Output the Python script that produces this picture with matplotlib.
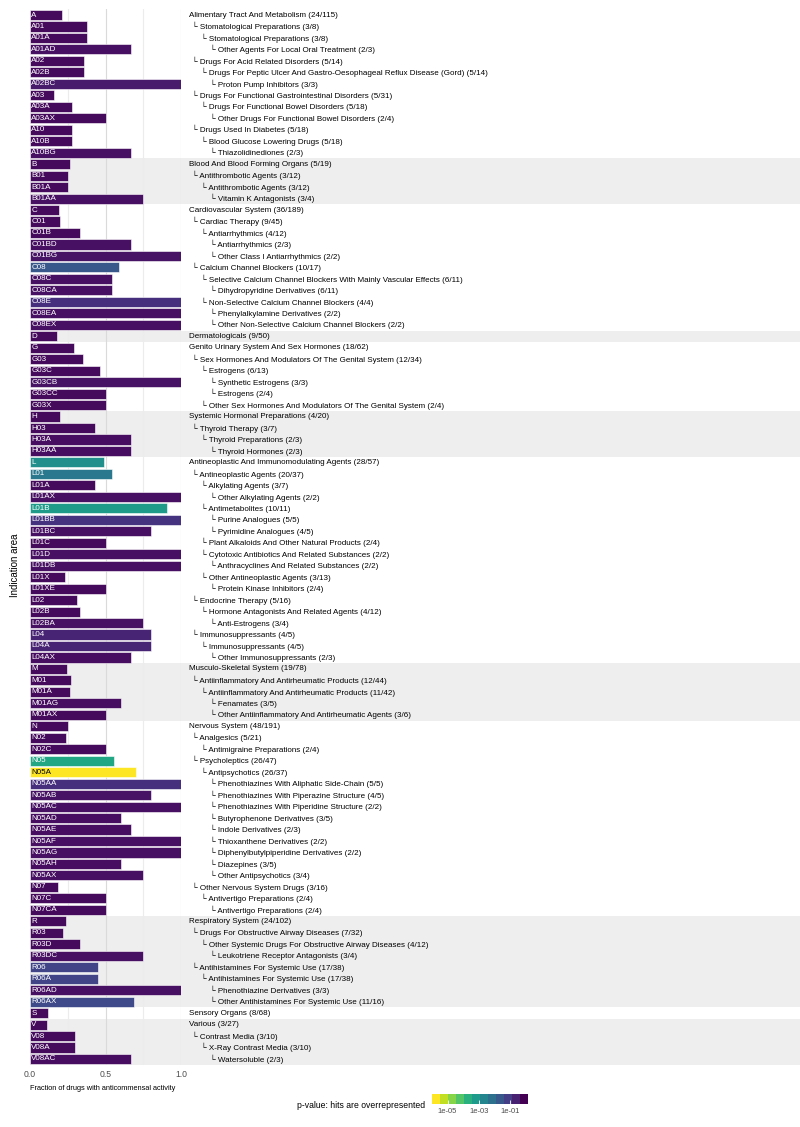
import numpy as np
import matplotlib
matplotlib.use("Agg")
import matplotlib.pyplot as plt
from matplotlib.colors import LogNorm
from matplotlib.cm import ScalarMappable

plt.rcParams['font.family'] = ['Liberation Sans', 'DejaVu Sans']

# ----------------- Data -----------------
codes = ["A", "A01", "A01A", "A01AD", "A02", "A02B", "A02BC", "A03", "A03A", "A03AX",
         "A10", "A10B", "A10BG",
         "B", "B01", "B01A", "B01AA",
         "C", "C01", "C01B", "C01BD", "C01BG", "C08", "C08C", "C08CA", "C08E", "C08EA", "C08EX",
         "D",
         "G", "G03", "G03C", "G03CB", "G03CC", "G03X",
         "H", "H03", "H03A", "H03AA",
         "L", "L01", "L01A", "L01AX", "L01B", "L01BB", "L01BC", "L01C", "L01D", "L01DB",
         "L01X", "L01XE", "L02", "L02B", "L02BA", "L04", "L04A", "L04AX",
         "M", "M01", "M01A", "M01AG", "M01AX",
         "N", "N02", "N02C", "N05", "N05A", "N05AA", "N05AB", "N05AC", "N05AD", "N05AE",
         "N05AF", "N05AG", "N05AH", "N05AX", "N07", "N07C", "N07CA",
         "R", "R03", "R03D", "R03DC", "R06", "R06A", "R06AD", "R06AX",
         "S",
         "V", "V08", "V08A", "V08AC"]

names = ["Alimentary Tract And Metabolism", "Stomatological Preparations",
         "Stomatological Preparations", "Other Agents For Local Oral Treatment",
         "Drugs For Acid Related Disorders",
         "Drugs For Peptic Ulcer And Gastro-Oesophageal Reflux Disease (Gord)",
         "Proton Pump Inhibitors", "Drugs For Functional Gastrointestinal Disorders",
         "Drugs For Functional Bowel Disorders", "Other Drugs For Functional Bowel Disorders",
         "Drugs Used In Diabetes", "Blood Glucose Lowering Drugs", "Thiazolidinediones",
         "Blood And Blood Forming Organs", "Antithrombotic Agents", "Antithrombotic Agents",
         "Vitamin K Antagonists",
         "Cardiovascular System", "Cardiac Therapy", "Antiarrhythmics", "Antiarrhythmics",
         "Other Class I Antiarrhythmics", "Calcium Channel Blockers",
         "Selective Calcium Channel Blockers With Mainly Vascular Effects",
         "Dihydropyridine Derivatives", "Non-Selective Calcium Channel Blockers",
         "Phenylalkylamine Derivatives", "Other Non-Selective Calcium Channel Blockers",
         "Dermatologicals",
         "Genito Urinary System And Sex Hormones",
         "Sex Hormones And Modulators Of The Genital System", "Estrogens",
         "Synthetic Estrogens", "Estrogens",
         "Other Sex Hormones And Modulators Of The Genital System",
         "Systemic Hormonal Preparations", "Thyroid Therapy", "Thyroid Preparations",
         "Thyroid Hormones",
         "Antineoplastic And Immunomodulating Agents", "Antineoplastic Agents",
         "Alkylating Agents", "Other Alkylating Agents", "Antimetabolites",
         "Purine Analogues", "Pyrimidine Analogues",
         "Plant Alkaloids And Other Natural Products",
         "Cytotoxic Antibiotics And Related Substances",
         "Anthracyclines And Related Substances", "Other Antineoplastic Agents",
         "Protein Kinase Inhibitors", "Endocrine Therapy",
         "Hormone Antagonists And Related Agents", "Anti-Estrogens",
         "Immunosuppressants", "Immunosuppressants", "Other Immunosuppressants",
         "Musculo-Skeletal System", "Antiinflammatory And Antirheumatic Products",
         "Antiinflammatory And Antirheumatic Products", "Fenamates",
         "Other Antiinflammatory And Antirheumatic Agents",
         "Nervous System", "Analgesics", "Antimigraine Preparations", "Psycholeptics",
         "Antipsychotics", "Phenothiazines With Aliphatic Side-Chain",
         "Phenothiazines With Piperazine Structure",
         "Phenothiazines With Piperidine Structure", "Butyrophenone Derivatives",
         "Indole Derivatives", "Thioxanthene Derivatives",
         "Diphenylbutylpiperidine Derivatives", "Diazepines", "Other Antipsychotics",
         "Other Nervous System Drugs", "Antivertigo Preparations",
         "Antivertigo Preparations",
         "Respiratory System", "Drugs For Obstructive Airway Diseases",
         "Other Systemic Drugs For Obstructive Airway Diseases",
         "Leukotriene Receptor Antagonists", "Antihistamines For Systemic Use",
         "Antihistamines For Systemic Use", "Phenothiazine Derivatives",
         "Other Antihistamines For Systemic Use",
         "Sensory Organs",
         "Various", "Contrast Media", "X-Ray Contrast Media", "Watersoluble"]

hits = [24, 3, 3, 2, 5, 5, 3, 5, 5, 2, 5, 5, 2,
        5, 3, 3, 3,
        36, 9, 4, 2, 2, 10, 6, 6, 4, 2, 2,
        9,
        18, 12, 6, 3, 2, 2,
        4, 3, 2, 2,
        28, 20, 3, 2, 10, 5, 4, 2, 2, 2, 3, 2, 5, 4, 3, 4, 4, 2,
        19, 12, 11, 3, 3,
        48, 5, 2, 26, 26, 5, 4, 2, 3, 2, 2, 2, 3, 3, 3, 2, 2,
        24, 7, 4, 3, 17, 17, 3, 11,
        8,
        3, 3, 3, 2]

totals = [115, 8, 8, 3, 14, 14, 3, 31, 18, 4, 18, 18, 3,
          19, 12, 12, 4,
          189, 45, 12, 3, 2, 17, 11, 11, 4, 2, 2,
          50,
          62, 34, 13, 3, 4, 4,
          20, 7, 3, 3,
          57, 37, 7, 2, 11, 5, 5, 4, 2, 2, 13, 4, 16, 12, 4, 5, 5, 3,
          78, 44, 42, 5, 6,
          191, 21, 4, 47, 37, 5, 5, 2, 5, 3, 2, 2, 5, 4, 16, 4, 4,
          102, 32, 12, 4, 38, 38, 3, 16,
          68,
          27, 10, 10, 3]

pvals = [1, 1, 1, 0.8, 1, 1, 0.5, 1, 1, 1, 1, 1, 0.8,
         1, 1, 1, 0.8,
         1, 1, 1, 0.8, 0.7, 0.03, 0.8, 0.8, 0.2, 0.8, 0.8,
         1,
         1, 1, 1, 0.7, 1, 1,
         1, 1, 0.9, 0.9,
         1.2e-3, 5e-3, 1, 0.8, 6e-4, 0.18, 0.8, 1, 0.8, 0.8, 1, 1, 1, 1, 0.8,
         0.34, 0.34, 0.9,
         1, 1, 1, 0.9, 1,
         1, 1, 1, 3e-4, 1e-6, 0.2, 0.7, 0.8, 0.9, 0.9, 0.8, 0.8, 0.9, 0.8, 1, 1, 1,
         1, 1, 1, 0.8, 0.08, 0.08, 0.8, 0.06,
         1,
         1, 1, 1, 0.9]

frac = np.array(hits) / np.array(totals)
levels = [{1: 0, 3: 1, 4: 2, 5: 3}[len(c)] for c in codes]
n = len(codes)
y = np.arange(n)

# ----------------- Layout -----------------
W, H = 800, 1127
fig = plt.figure(figsize=(W / 100, H / 100), dpi=100)
top_px, bot_px = 9.3, 1064.7
ax = fig.add_axes([30 / W, 1 - bot_px / H, 151 / W, (bot_px - top_px) / H])
ax2 = fig.add_axes([181 / W, 1 - bot_px / H, 619 / W, (bot_px - top_px) / H])

norm = LogNorm(vmin=1e-6, vmax=10 ** 0.15)
cmap = plt.get_cmap('viridis_r')

# alternating background bands per top-level group
group = np.cumsum([lv == 0 for lv in levels]) - 1
for g in np.unique(group):
    if g % 2 == 1:
        rows = y[group == g]
        for a in (ax, ax2):
            a.axhspan(rows[0] - 0.5, rows[-1] + 0.5, color='#eeeeee', lw=0, zorder=0)

# grid
for xv, col in [(0.25, '#ececec'), (0.5, '#dadada'), (0.75, '#ececec'), (1.0, '#d2d2d2')]:
    ax.axvline(xv, color=col, lw=0.8, zorder=1)

# ----------------- Bars -----------------
colors = cmap(norm(pvals))
ax.barh(y, frac, height=0.88, color=colors, edgecolor='white', linewidth=0.4, zorder=2)
for yi, c, col in zip(y, codes, colors):
    lum = 0.299 * col[0] + 0.587 * col[1] + 0.114 * col[2]
    ax.text(0.008, yi, c, color='black' if lum > 0.6 else 'white', fontsize=5.8,
            va='center', ha='left', zorder=3)

ax.set_xlim(0, 1)
ax.set_ylim(n - 0.5, -0.5)
ax.set_yticks([])
ax.set_xticks([0, 0.5, 1.0])
ax.set_xticklabels(["0.0", "0.5", "1.0"])
ax.tick_params(axis='x', length=0, pad=4, labelsize=6.2, labelcolor='#4d4d4d')
for s in ax.spines.values():
    s.set_visible(False)

# ----------------- Hierarchy labels -----------------
for yi, lv, nm, h, t in zip(y, levels, names, hits, totals):
    lab = f"{nm} ({h}/{t})"
    if lv == 0:
        ax2.text(189, yi, lab, fontsize=5.75, va='center', ha='left',
                 family=['Liberation Sans', 'DejaVu Sans'])
    else:
        ax2.text(192 + 9 * (lv - 1), yi, "\u2514 " + lab, fontsize=5.75, va='center', ha='left',
                 family=['Liberation Sans', 'DejaVu Sans'])
ax2.set_xlim(181, 800)
ax2.set_ylim(n - 0.5, -0.5)
ax2.axis('off')

# ----------------- Axis titles -----------------
fig.text(15 / W, 1 - 565 / H, "Indication area", rotation=90, fontsize=7,
         ha='center', va='center')
fig.text(30 / W, 1 - 1089 / H, "Fraction of drugs with anticommensal activity",
         fontsize=5.3, ha='left', va='center')

# ----------------- Legend -----------------
cax = fig.add_axes([432 / W, 1 - 1104 / H, 96 / W, 10 / H])
sm = ScalarMappable(norm=norm, cmap=plt.get_cmap('viridis_r', 12))
cb = fig.colorbar(sm, cax=cax, orientation='horizontal')
cb.outline.set_visible(False)
cb.set_ticks([1e-5, 1e-3, 1e-1])
cb.set_ticklabels(["1e-05", "1e-03", "1e-01"])
cb.minorticks_off()
cax.tick_params(direction='in', color='white', length=3, width=0.6,
                labelsize=5.5, labelcolor='#4d4d4d', pad=3)
fig.text(425 / W, 1 - 1106 / H, "p-value: hits are overrepresented",
         fontsize=6.2, ha='right', va='center')

fig.savefig("out.png", dpi=100)
